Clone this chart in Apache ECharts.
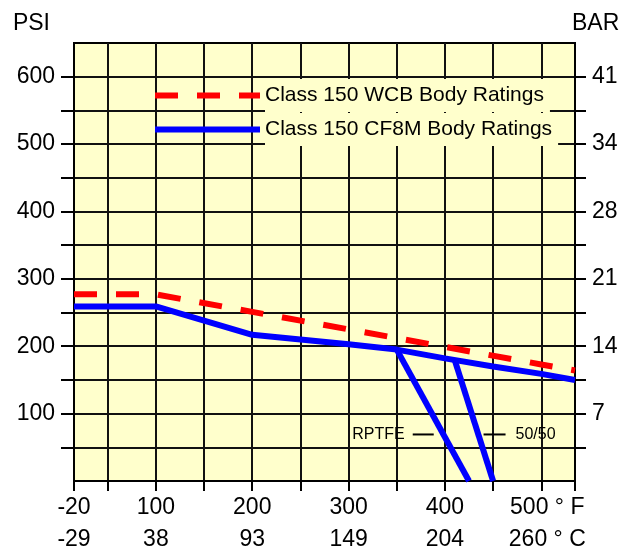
<!DOCTYPE html>
<html><head><meta charset="utf-8">
<script src="https://cdn.jsdelivr.net/npm/echarts@6/dist/echarts.min.js"></script>
<style>html,body{margin:0;padding:0;background:#fff}#c{width:623px;height:556px}</style>
</head><body><div id="c"></div>
<script>
// ---- data (temperatures in °F, pressures in PSI) ----
const F_TICKS = [-20, 50, 100, 150, 200, 250, 300, 350, 400, 450, 500, 535];
const F_LABELS = [-20, 100, 200, 300, 400, 500];
const AXIS_MAX_F = 535;
const PSI_TICKS = [50, 100, 150, 200, 250, 300, 350, 400, 450, 500, 550, 600];
const PSI_LABELS = [100, 200, 300, 400, 500, 600];
const PSI_MAX = 650;

const WCB_F   = [-20, 100, 200, 300, 400, 500, 535];
const WCB_PSI = [277, 277, 251, 225, 199, 173, 164];
const CF8M_F   = [-20, 100, 200, 300, 350, 400, 450, 500, 535];
const CF8M_PSI = [259, 259, 217, 203, 195, 182, 170, 159, 150];
const RPTFE_F   = [350, 425];
const RPTFE_PSI = [195, 0];
const FIFTY_F   = [410, 450];
const FIFTY_PSI = [180, 0];
const ANNOT_PSI = 75;

const FONT = 'Liberation Sans, Arial, sans-serif';

// the chart compresses the -20..50 °F span to half scale
function toAxis(t) { return t >= 50 ? t : 50 - (50 - t) / 2; }
function fromAxis(v) { return v >= 50 ? v : 50 - (50 - v) * 2; }
function pairs(fs, ps) { return fs.map((f, i) => [toAxis(f), ps[i]]); }
function tAtPsi(fs, ps, p) {
  for (let i = 0; i < fs.length - 1; i++) {
    const a = ps[i], b = ps[i + 1];
    if ((p - a) * (p - b) <= 0) return fs[i] + (fs[i + 1] - fs[i]) * (p - a) / (b - a);
  }
  return fs[fs.length - 1];
}
const toC = f => Math.round((f - 32) * 5 / 9);
const toBar = p => Math.round(p / 14.5038);

const chart = echarts.init(document.getElementById('c'));
const lblRich = {
  u: { fontSize: 23, fontFamily: FONT, color: '#000', lineHeight: 32, padding: [0, 0, 0, 12] }
};
chart.setOption({
  animation: false,
  backgroundColor: '#fff',
  grid: { left: 74, right: 48, top: 43, bottom: 71, show: true, backgroundColor: '#ffffcc', borderColor: '#000', borderWidth: 2 },
  legend: {
    orient: 'vertical', left: 152, top: 79, padding: 0,
    itemWidth: 105, itemHeight: 20, itemGap: 1,
    data: ['Class 150 WCB Body Ratings', 'Class 150 CF8M Body Ratings'],
    lineStyle: { width: 6 },
    itemStyle: { color: 'rgba(0,0,0,0)', borderWidth: 0, opacity: 0 },
    textStyle: { fontSize: 21, fontFamily: FONT, color: '#000', lineHeight: 33, backgroundColor: '#ffffcc', padding: [0, 6, 0, 0] }
  },
  xAxis: {
    type: 'value', min: toAxis(F_TICKS[0]), max: AXIS_MAX_F,
    axisLine: { show: true, lineStyle: { color: '#000', width: 2 } },
    axisTick: { show: true, length: 10, customValues: F_TICKS.map(toAxis), lineStyle: { color: '#000', width: 2 } },
    splitLine: { show: true, lineStyle: { color: '#111', width: 2 } },
    axisLabel: {
      customValues: F_LABELS.map(toAxis), margin: 11,
      fontSize: 23, fontFamily: FONT, color: '#000', lineHeight: 32,
      formatter: v => {
        const f = Math.round(fromAxis(v));
        if (f === F_LABELS[F_LABELS.length - 1]) return '{u|' + f + ' ° F}\n{u|' + toC(f) + ' ° C}';
        return f + '\n' + toC(f);
      },
      rich: lblRich
    }
  },
  yAxis: [{
    type: 'value', min: 0, max: PSI_MAX, interval: 50, position: 'left',
    name: 'PSI', nameLocation: 'end', nameGap: 8,
    nameTextStyle: { fontSize: 23, fontFamily: FONT, color: '#000', align: 'right', padding: [0, 24, 0, 0] },
    axisLine: { show: true, lineStyle: { color: '#000', width: 2 } },
    axisTick: { show: true, length: 13, customValues: PSI_TICKS, lineStyle: { color: '#000', width: 2 } },
    splitLine: { show: true, lineStyle: { color: '#111', width: 2 } },
    axisLabel: { customValues: PSI_LABELS, margin: 19, fontSize: 23, fontFamily: FONT, color: '#000' }
  }, {
    type: 'value', min: 0, max: PSI_MAX, interval: 50, position: 'right',
    name: 'BAR', nameLocation: 'end', nameGap: 8,
    nameTextStyle: { fontSize: 23, fontFamily: FONT, color: '#000', align: 'left', padding: [0, 0, 0, -3] },
    axisLine: { show: true, lineStyle: { color: '#000', width: 2 } },
    axisTick: { show: true, length: 11, customValues: PSI_TICKS, lineStyle: { color: '#000', width: 2 } },
    splitLine: { show: false },
    axisLabel: { customValues: PSI_LABELS, margin: 17, fontSize: 23, fontFamily: FONT, color: '#000', formatter: v => String(toBar(v)) }
  }],
  series: [{
    name: 'Class 150 WCB Body Ratings', type: 'line', symbol: 'none', z: 4,
    data: pairs(WCB_F, WCB_PSI),
    lineStyle: { color: '#ff0000', width: 6, type: [23, 19] }, itemStyle: { color: '#ff0000' }
  }, {
    name: 'Class 150 CF8M Body Ratings', type: 'line', symbol: 'none', z: 3,
    data: pairs(CF8M_F, CF8M_PSI),
    lineStyle: { color: '#0000ff', width: 6 }, itemStyle: { color: '#0000ff' }
  }, {
    name: 'RPTFE', type: 'line', symbol: 'none', z: 3,
    data: pairs(RPTFE_F, RPTFE_PSI),
    lineStyle: { color: '#0000ff', width: 6 },
    markPoint: {
      symbol: 'circle', symbolSize: 1, itemStyle: { color: 'rgba(0,0,0,0)' }, silent: true,
      data: [{ coord: [toAxis(tAtPsi(RPTFE_F, RPTFE_PSI, ANNOT_PSI)), ANNOT_PSI] }],
      label: {
        show: true, position: 'left', distance: 7, offset: [0, 4], formatter: 'RPTFE{g|}{d|}',
        fontSize: 16, fontFamily: FONT, color: '#000',
        rich: { g: { width: 8, height: 2 }, d: { width: 21, height: 2, backgroundColor: '#000' } }
      }
    }
  }, {
    name: '50/50', type: 'line', symbol: 'none', z: 3,
    data: pairs(FIFTY_F, FIFTY_PSI),
    lineStyle: { color: '#0000ff', width: 6 },
    markPoint: {
      symbol: 'circle', symbolSize: 1, itemStyle: { color: 'rgba(0,0,0,0)' }, silent: true,
      data: [{ coord: [toAxis(tAtPsi(FIFTY_F, FIFTY_PSI, ANNOT_PSI)), ANNOT_PSI] }],
      label: {
        show: true, position: 'right', distance: 6, offset: [0, 4], formatter: '{d|}{g|}50/50',
        fontSize: 16, fontFamily: FONT, color: '#000',
        rich: { g: { width: 10, height: 2 }, d: { width: 22, height: 2, backgroundColor: '#000' } }
      }
    }
  }]
});
</script></body></html>
